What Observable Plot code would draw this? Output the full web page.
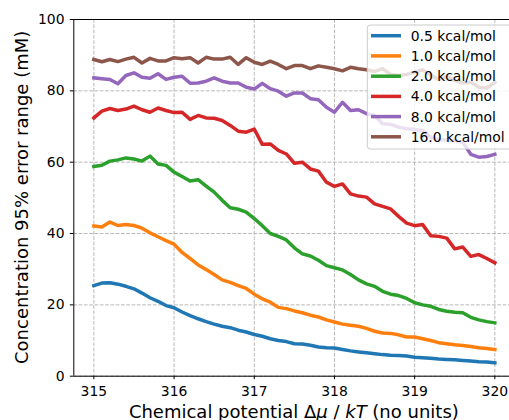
<!DOCTYPE html>
<html><head><meta charset="utf-8">
<script src="https://cdn.jsdelivr.net/npm/d3@7"></script>
<script src="https://cdn.jsdelivr.net/npm/@observablehq/plot@0.6"></script>
<style>
body{margin:0;background:#fff;}
#chart svg{display:block;}
</style>
</head><body><div id="chart"></div>
<script>
const xValues = [315.0,315.1,315.2,315.3,315.4,315.5,315.6,315.7,315.8,315.9,
 316.0,316.1,316.2,316.3,316.4,316.5,316.6,316.7,316.8,316.9,
 317.0,317.1,317.2,317.3,317.4,317.5,317.6,317.7,317.8,317.9,
 318.0,318.1,318.2,318.3,318.4,318.5,318.6,318.7,318.8,318.9,
 319.0,319.1,319.2,319.3,319.4,319.5,319.6,319.7,319.8,319.9,320.0];

const seriesNames = ["0.5 kcal/mol","1.0 kcal/mol","2.0 kcal/mol","4.0 kcal/mol","8.0 kcal/mol","16.0 kcal/mol"];
const seriesColors = ["#1f77b4","#ff7f0e","#2ca02c","#d62728","#9467bd","#8c564b"];

const s05 = [25.4,26.1,26.2,25.8,25.2,24.5,23.3,22.0,21.0,19.8,
 19.2,18.0,17.0,16.1,15.3,14.6,14.0,13.6,12.9,12.4,
 11.7,11.2,10.5,10.0,9.7,9.1,9.0,8.7,8.2,7.95,
 7.9,7.5,7.1,6.8,6.55,6.3,6.05,5.9,5.8,5.65,
 5.3,5.2,5.05,4.8,4.7,4.6,4.4,4.25,4.05,3.95,3.75];
const s10 = [42.1,41.8,43.2,42.25,42.5,42.25,41.5,40.2,39.1,38.0,
 37.0,34.7,33.0,31.2,29.9,28.5,27.0,26.3,25.4,24.6,
 23.0,21.7,20.75,19.3,18.95,18.3,17.8,17.1,16.6,15.8,
 15.2,14.6,14.3,14.0,13.4,12.6,12.1,12.0,11.6,11.0,
 11.0,10.5,10.0,9.4,9.1,8.8,8.6,8.35,8.0,7.75,7.5];
const s20 = [58.8,59.15,60.3,60.65,61.2,60.9,60.3,61.7,59.5,59.1,
 57.2,56.0,54.7,55.1,53.3,51.6,49.3,47.2,46.8,46.0,
 44.2,42.2,40.0,39.2,38.2,36.0,34.3,33.7,32.5,31.0,
 30.4,29.8,28.5,27.0,25.9,25.2,23.8,23.0,22.6,21.8,
 20.6,20.0,19.6,18.7,18.2,17.9,17.8,16.5,15.8,15.3,14.95];
const s40 = [72.4,74.3,75.05,74.5,74.9,75.7,74.7,74.0,75.2,74.5,
 73.9,74.0,72.0,73.1,72.4,72.3,71.7,70.3,68.7,68.4,
 69.3,65.0,65.1,63.3,62.3,59.7,60.0,58.1,57.5,54.4,
 53.2,53.9,51.1,50.5,50.2,48.3,47.6,46.9,44.8,42.9,
 42.2,42.5,39.4,39.2,38.7,35.7,36.2,33.6,34.1,33.0,31.8];
const s80 = [83.64,83.4,83.2,82.0,84.3,85.05,83.8,83.55,84.8,83.2,
 83.8,84.1,82.15,82.2,82.7,83.65,82.7,82.2,82.2,81.0,
 80.5,82.1,80.6,79.9,78.5,79.4,79.4,77.8,77.5,75.4,
 74.0,76.8,74.5,74.7,73.6,73.1,70.8,70.6,69.8,69.4,
 69.2,68.9,67.0,66.3,66.2,66.1,65.6,62.2,61.4,61.6,62.2];
const s160 = [88.8,88.15,88.8,88.2,88.9,89.4,87.8,89.1,88.4,88.4,
 89.3,89.0,89.3,87.8,89.4,88.9,88.9,89.4,87.4,89.3,
 88.0,87.4,88.3,87.4,86.2,87.1,87.1,86.2,87.0,86.6,
 86.2,85.6,86.6,86.2,85.9,85.4,86.2,84.6,84.3,84.6,
 85.2,85.9,84.4,83.2,84.0,82.9,82.2,82.4,81.0,80.8,82.4];

const xTicks = [315,316,317,318,319,320];
const yTicks = [0,20,40,60,80,100];
const xLabelParts = [["Chemical potential ", "normal"], ["Δ", "normal"], ["μ", "italic"], [" / ", "normal"], ["kT", "italic"], [" (no units)", "normal"]];
const yLabel = "Concentration 95% error range (mM)";

const allSeries = [s05, s10, s20, s40, s80, s160];
const data = [];
allSeries.forEach((arr, si) => arr.forEach((v, i) => data.push({x: xValues[i], y: v, series: seriesNames[si]})));

const W = 509, H = 420;
const mL = 73.3, mT = 19, mB = 44.3, mR = -5.4;
const FS = 13.9;
const LFS = 18;

const plot = Plot.plot({
  width: W, height: H,
  marginLeft: mL, marginRight: mR, marginTop: mT, marginBottom: mB,
  style: {fontFamily: "'DejaVu Sans', sans-serif", fontSize: FS + "px", color: "#000", background: "#fff"},
  x: {domain: [314.75, 320.25]},
  y: {domain: [0, 100]},
  color: {domain: seriesNames, range: seriesColors},
  marks: [
    Plot.gridX(xTicks, {stroke: "#b0b0b0", strokeOpacity: 1, strokeWidth: 0.9, strokeDasharray: "3.7,1.6"}),
    Plot.gridY(yTicks, {stroke: "#b0b0b0", strokeOpacity: 1, strokeWidth: 0.9, strokeDasharray: "3.7,1.6"}),
    Plot.line(data, {x: "x", y: "y", z: "series", stroke: "series", strokeWidth: 3.5, strokeLinejoin: "round", strokeLinecap: "square"}),
    Plot.ruleY([0], {stroke: "#000", strokeWidth: 1}),
    Plot.ruleY([100], {stroke: "#000", strokeWidth: 1}),
    Plot.ruleX([314.75], {stroke: "#000", strokeWidth: 1}),
    Plot.axisX(xTicks, {tickSize: 3.5, tickPadding: 6.3, tickFormat: d => String(d), label: null, stroke: "#000", fill: "#000"}),
    Plot.axisY(yTicks, {tickSize: 3.5, tickPadding: 5.8, tickFormat: d => String(d), label: null, stroke: "#000", fill: "#000"})
  ]
});
document.getElementById("chart").appendChild(plot);

const svg = d3.select(plot);
// axis labels
const xl = svg.append("text").attr("x", (mL + W - mR) / 2).attr("y", 418)
  .attr("text-anchor", "middle").attr("font-size", LFS).attr("fill", "#000")
  .attr("font-family", "'DejaVu Sans', sans-serif");
xLabelParts.forEach(([t, s]) => xl.append("tspan").attr("font-style", s).text(t));
svg.append("text").attr("transform", `translate(28,${(mT + H - mB) / 2}) rotate(-90)`)
  .attr("text-anchor", "middle").attr("font-size", LFS).attr("fill", "#000")
  .attr("font-family", "'DejaVu Sans', sans-serif").text(yLabel);

// legend
const lg = svg.append("g");
lg.append("rect").attr("x", 367.3).attr("y", 25).attr("width", 150).attr("height", 124).attr("rx", 3)
  .attr("fill", "#fff").attr("fill-opacity", 0.8).attr("stroke", "#cccccc").attr("stroke-width", 1);
const rowY = [35.7, 55.9, 76.2, 96.4, 116.6, 136.8];
seriesNames.forEach((n, i) => {
  lg.append("line").attr("x1", 371).attr("x2", 401).attr("y1", rowY[i]).attr("y2", rowY[i])
    .attr("stroke", seriesColors[i]).attr("stroke-width", 3.5);
  lg.append("text").attr("x", 410.7).attr("y", rowY[i] + 5).attr("text-anchor", "start")
    .attr("font-size", FS).attr("fill", "#000")
    .attr("font-family", "'DejaVu Sans', sans-serif").text(n);
});
</script>
</body></html>
